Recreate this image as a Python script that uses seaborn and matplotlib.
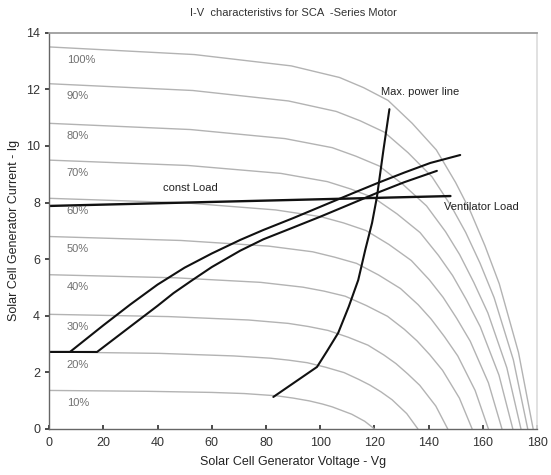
import matplotlib
matplotlib.use("Agg")
import matplotlib.pyplot as plt
import seaborn as sns
import pandas as pd

# Solar generator I-V curves at different irradiance levels (voltage V, current A)
levels = ["10%", "20%", "30%", "40%", "50%", "60%", "70%", "80%", "90%", "100%"]
iv_voltage = [
    [0, 36.0, 60.0, 72.0, 78.0, 84.0, 90.0, 96.0, 100.8, 104.4, 108.0, 111.6, 116.4, 120.0],
    [0, 40.8, 68.0, 81.6, 88.4, 95.2, 102.0, 108.8, 114.2, 118.3, 122.4, 126.5, 131.9, 136.0],
    [0, 44.1, 73.5, 88.2, 95.6, 102.9, 110.3, 117.6, 123.5, 127.9, 132.3, 136.7, 142.6, 147.0],
    [0, 46.8, 78.0, 93.6, 101.4, 109.2, 117.0, 124.8, 131.0, 135.7, 140.4, 145.1, 151.3, 156.0],
    [0, 48.6, 81.0, 97.2, 105.3, 113.4, 121.5, 129.6, 136.1, 140.9, 145.8, 150.7, 157.1, 162.0],
    [0, 50.1, 83.5, 100.2, 108.6, 116.9, 125.3, 133.6, 140.3, 145.3, 150.3, 155.3, 162.0, 167.0],
    [0, 51.3, 85.5, 102.6, 111.2, 119.7, 128.3, 136.8, 143.6, 148.8, 153.9, 159.0, 165.9, 171.0],
    [0, 52.2, 87.0, 104.4, 113.1, 121.8, 130.5, 139.2, 146.2, 151.4, 156.6, 161.8, 168.8, 174.0],
    [0, 53.0, 88.3, 105.9, 114.7, 123.6, 132.4, 141.2, 148.3, 153.6, 158.9, 164.1, 171.2, 176.5],
    [0, 53.6, 89.3, 107.1, 116.0, 125.0, 133.9, 142.8, 149.9, 155.3, 160.7, 166.0, 173.1, 178.5],
]
iv_current = [
    [1.36, 1.33, 1.29, 1.25, 1.21, 1.17, 1.09, 0.99, 0.88, 0.78, 0.65, 0.52, 0.27, 0],
    [2.72, 2.67, 2.58, 2.50, 2.43, 2.34, 2.18, 1.99, 1.75, 1.55, 1.31, 1.03, 0.54, 0],
    [4.05, 3.97, 3.85, 3.73, 3.62, 3.48, 3.24, 2.96, 2.61, 2.31, 1.94, 1.54, 0.81, 0],
    [5.45, 5.34, 5.18, 5.01, 4.87, 4.69, 4.36, 3.98, 3.52, 3.11, 2.62, 2.07, 1.09, 0],
    [6.80, 6.66, 6.46, 6.26, 6.07, 5.85, 5.44, 4.96, 4.39, 3.88, 3.26, 2.58, 1.36, 0],
    [8.15, 7.99, 7.74, 7.50, 7.28, 7.01, 6.52, 5.95, 5.26, 4.65, 3.91, 3.10, 1.63, 0],
    [9.50, 9.31, 9.03, 8.74, 8.48, 8.17, 7.60, 6.94, 6.13, 5.42, 4.56, 3.61, 1.90, 0],
    [10.80, 10.58, 10.26, 9.94, 9.64, 9.29, 8.64, 7.88, 6.97, 6.16, 5.18, 4.10, 2.16, 0],
    [12.20, 11.96, 11.59, 11.22, 10.89, 10.49, 9.76, 8.91, 7.87, 6.95, 5.86, 4.64, 2.44, 0],
    [13.50, 13.23, 12.83, 12.42, 12.06, 11.61, 10.80, 9.86, 8.71, 7.70, 6.48, 5.13, 2.70, 0],
]

# Load characteristics of the series motor
const_load_v = [0, 148]
const_load_i = [7.88, 8.23]

vent_upper_v = [0, 7.7, 20, 30, 40, 50, 60, 70.5, 79, 90, 100, 112, 121.4, 131, 140.6, 151.6]
vent_upper_i = [2.72, 2.72, 3.66, 4.40, 5.10, 5.70, 6.20, 6.68, 7.03, 7.45, 7.85, 8.33,
                8.70, 9.06, 9.40, 9.68]
vent_lower_v = [0, 17.7, 30, 40, 45.9, 52.7, 60, 70.5, 79, 87.7, 100, 110, 120.9, 131, 143]
vent_lower_i = [2.72, 2.72, 3.62, 4.35, 4.80, 5.25, 5.72, 6.30, 6.70, 7.03, 7.50, 7.90,
                8.34, 8.72, 9.12]

# Maximum power point locus
mpp_v = [82.7, 98.8, 102.5, 106.6, 110.5, 114.0, 116.6, 119.1, 120.9, 123.3, 125.5]
mpp_i = [1.13, 2.19, 2.75, 3.39, 4.32, 5.26, 6.33, 7.28, 8.20, 9.86, 11.30]

x_ticks = [0, 20, 40, 60, 80, 100, 120, 140, 160, 180]
y_ticks = [0, 2, 4, 6, 8, 10, 12, 14]

sns.set_theme(style="white")
plt.rcParams["font.family"] = ["Liberation Sans", "DejaVu Sans"]

fig = plt.figure(figsize=(5.51, 4.75), dpi=100)
ax = fig.add_axes([0.089, 0.097, 0.886, 0.834])

rows = []
for lvl, vs, cs in zip(levels, iv_voltage, iv_current):
    for v, c in zip(vs, cs):
        rows.append({"level": lvl, "V": v, "I": c})
iv = pd.DataFrame(rows)
sns.lineplot(data=iv, x="V", y="I", hue="level", units="level", estimator=None,
             sort=False, palette=["#b3b3b3"] * len(levels), linewidth=1.0,
             legend=False, ax=ax)

for vs, cs, lw in [(const_load_v, const_load_i, 1.7), (vent_upper_v, vent_upper_i, 1.5),
                   (vent_lower_v, vent_lower_i, 1.5), (mpp_v, mpp_i, 1.5)]:
    sns.lineplot(x=vs, y=cs, sort=False, estimator=None, color="#111111",
                 linewidth=lw, ax=ax)

# Irradiance labels just under each curve
for lvl, cs in zip(levels, iv_current):
    ax.text(6.5, cs[0] - 0.45, lvl, fontsize=8, color="#707070",
            va="center", ha="left")

ax.text(122.5, 11.9, "Max. power line", fontsize=8, color="#222222", va="center")
ax.text(42, 8.5, "const Load", fontsize=8, color="#222222", va="center")
ax.text(145.5, 7.85, "Ventilator Load", fontsize=8, color="#222222", va="center")

ax.set_xlim(0, 180)
ax.set_ylim(0, 14)
ax.set_xticks(x_ticks)
ax.set_yticks(y_ticks)
ax.tick_params(axis="both", labelsize=9, colors="#333333", length=3,
               direction="out", left=True, bottom=True)
ax.tick_params(axis="x", direction="in", length=3, pad=6)
ax.set_xlabel("Solar Cell Generator Voltage - Vg", fontsize=9, color="#222222",
              labelpad=5)
ax.set_ylabel("Solar Cell Generator Current - Ig", fontsize=9, color="#222222",
              labelpad=4)
ax.set_title("I-V  characteristivs for SCA  -Series Motor", fontsize=8,
             color="#333333", pad=12)

for side in ["left", "bottom"]:
    ax.spines[side].set_color("#666666")
    ax.spines[side].set_linewidth(1.0)
ax.spines["top"].set_color("#999999")
ax.spines["right"].set_color("#dddddd")

fig.savefig("out.png", dpi=100)
